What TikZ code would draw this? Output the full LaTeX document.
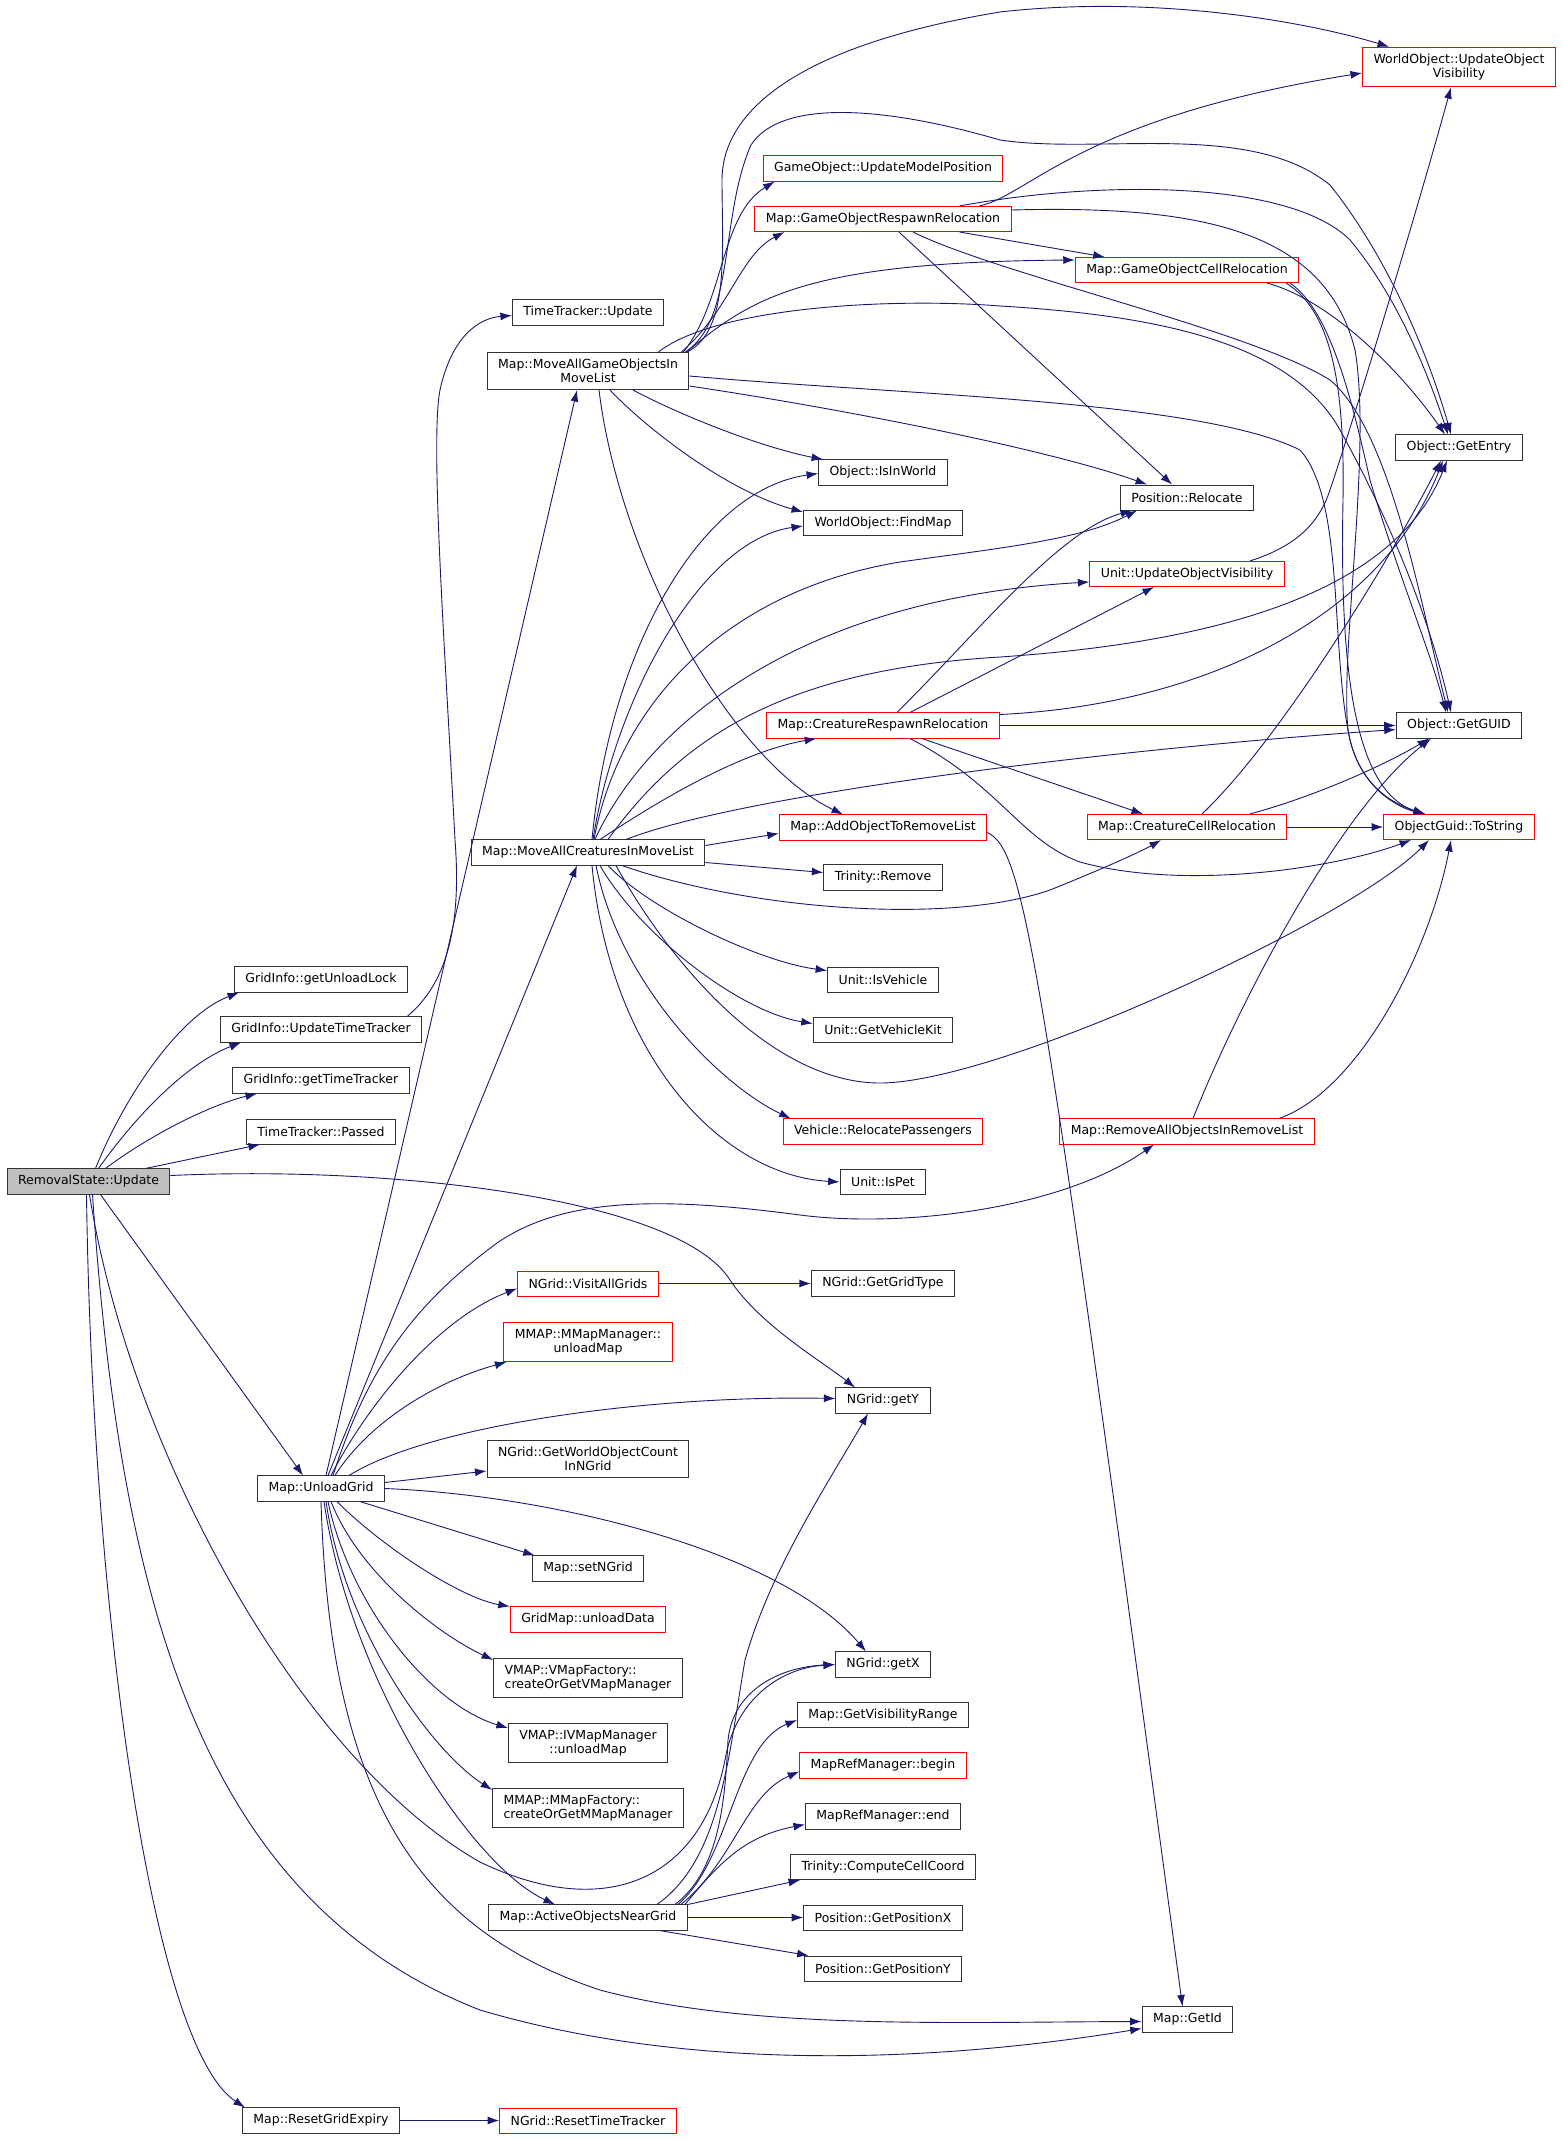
\documentclass[tikz,border=0pt]{standalone}
\usepackage{fontspec}
\setmainfont{DejaVu Sans}
\usepackage{tikz}
\usetikzlibrary{arrows.meta}
\definecolor{callblue}{RGB}{25,25,112}
\tikzset{>={Latex[length=11.5pt,width=8pt]}}
\tikzset{
    fn/.style={draw=black!80, line width=1pt, fill=white, rectangle,
        inner xsep=11pt, inner ysep=6.5pt, minimum height=25pt, align=center,
        font=\fontsize{12.5pt}{14.5pt}\selectfont},
    fnred/.style={fn, draw=red},
    fnroot/.style={fn, fill=black!25},
    callarrow/.style={->, draw=callblue, line width=0.9pt},
}

\begin{document}
\begin{tikzpicture}[x=1pt,y=-1pt]
    \useasboundingbox (0,0) rectangle (1561,2139);
    % functions
    \node[fnroot] (root)  at (88.5,1181.5) {RemovalState::Update};
    \node[fn]     (gul)   at (321,979.5)   {GridInfo::getUnloadLock};
    \node[fn]     (gutt)  at (321,1029.5)  {GridInfo::UpdateTimeTracker};
    \node[fn]     (ggtt)  at (321,1080.5)  {GridInfo::getTimeTracker};
    \node[fn]     (ttp)   at (321,1131.5)  {TimeTracker::Passed};
    \node[fn]     (ug)    at (321,1488.5)  {Map::UnloadGrid};
    \node[fn]     (rge)   at (321,2120.5)  {Map::ResetGridExpiry};
    \node[fn]     (ttu)   at (588,312.5)   {TimeTracker::Update};
    \node[fn]     (mgo)   at (588,371)     {Map::MoveAllGameObjectsIn\\MoveList};
    \node[fn]     (mac)   at (588,852.5)   {Map::MoveAllCreaturesInMoveList};
    \node[fnred]  (vag)   at (588,1283.5)  {NGrid::VisitAllGrids};
    \node[fnred]  (mmum)  at (588,1342)    {MMAP::MMapManager::\\unloadMap};
    \node[fn]     (gwoc)  at (588,1459)    {NGrid::GetWorldObjectCount\\InNGrid};
    \node[fn]     (setng) at (588,1568.5)  {Map::setNGrid};
    \node[fnred]  (gmud)  at (588,1619.5)  {GridMap::unloadData};
    \node[fn,align=left] (vmf) at (588,1678) {VMAP::VMapFactory::\\createOrGetVMapManager};
    \node[fn]     (ivm)   at (588,1743)    {VMAP::IVMapManager\\::unloadMap};
    \node[fn,align=left] (mmf) at (588,1808) {MMAP::MMapFactory::\\createOrGetMMapManager};
    \node[fn]     (aong)  at (588,1917.5)  {Map::ActiveObjectsNearGrid};
    \node[fnred]  (nrtt)  at (588,2120.5)  {NGrid::ResetTimeTracker};
    \node[fnred]  (goump) at (883,168.5)   {GameObject::UpdateModelPosition};
    \node[fnred]  (gorr)  at (883,219)     {Map::GameObjectRespawnRelocation};
    \node[fn]     (iiw)   at (883,472.5)   {Object::IsInWorld};
    \node[fn]     (fm)    at (883,523)     {WorldObject::FindMap};
    \node[fnred]  (crr)   at (883,725.5)   {Map::CreatureRespawnRelocation};
    \node[fnred]  (aorl)  at (883,827.5)   {Map::AddObjectToRemoveList};
    \node[fn]     (tr)    at (883,877.5)   {Trinity::Remove};
    \node[fn]     (iv)    at (883,979.5)   {Unit::IsVehicle};
    \node[fn]     (gvk)   at (883,1029.5)  {Unit::GetVehicleKit};
    \node[fnred]  (rp)    at (883,1131.5)  {Vehicle::RelocatePassengers};
    \node[fn]     (ip)    at (883,1182)    {Unit::IsPet};
    \node[fn]     (ggt)   at (883,1283.5)  {NGrid::GetGridType};
    \node[fn]     (gety)  at (883,1400.5)  {NGrid::getY};
    \node[fn]     (gx)    at (883,1664.5)  {NGrid::getX};
    \node[fn]     (gvr)   at (883,1715)    {Map::GetVisibilityRange};
    \node[fnred]  (mrb)   at (883,1765.5)  {MapRefManager::begin};
    \node[fn]     (mre)   at (883,1816.5)  {MapRefManager::end};
    \node[fn]     (tccc)  at (883,1867)    {Trinity::ComputeCellCoord};
    \node[fn]     (gpx)   at (883,1917.5)  {Position::GetPositionX};
    \node[fn]     (gpy)   at (883,1968.5)  {Position::GetPositionY};
    \node[fnred]  (gocr)  at (1187,270)    {Map::GameObjectCellRelocation};
    \node[fn]     (pr)    at (1187,497.5)  {Position::Relocate};
    \node[fnred]  (uuov)  at (1187,574)    {Unit::UpdateObjectVisibility};
    \node[fnred]  (ccr)   at (1187,827)    {Map::CreatureCellRelocation};
    \node[fnred]  (raoirl) at (1187,1131.5) {Map::RemoveAllObjectsInRemoveList};
    \node[fn]     (gid)   at (1187.5,2019.5) {Map::GetId};
    \node[fnred]  (wov)   at (1459,67)     {WorldObject::UpdateObject\\Visibility};
    \node[fn]     (ge)    at (1459,447.5)  {Object::GetEntry};
    \node[fn]     (guid)  at (1459,725.5)  {Object::GetGUID};
    \node[fnred]  (ots)   at (1459,827)    {ObjectGuid::ToString};

    % calls of RemovalState::Update
    \draw[callarrow] ([xshift=7pt]root.north) .. controls (125,1095) and (180,1015) .. ([xshift=-82pt]gul.south);
    \draw[callarrow] ([xshift=10pt]root.north) .. controls (140,1110) and (190,1062) .. ([xshift=-80pt]gutt.south);
    \draw[callarrow] ([xshift=17pt]root.north) .. controls (150,1135) and (210,1105) .. ([xshift=-64pt]ggtt.south);
    \draw[callarrow] ([xshift=-25pt]root.north east) -- ([xshift=-61pt]ttp.south);
    \draw[callarrow] ([yshift=6pt]root.east) .. controls (400,1165) and (680,1200) .. (730,1280)
        .. controls (760,1325) and (820,1360) .. ([xshift=-28pt]gety.north);
    \draw[callarrow] ([xshift=12pt]root.south) -- ([xshift=-18pt]ug.north);
    \draw[callarrow] ([xshift=-2pt]root.south) .. controls (92,1600) and (150,2045) .. ([xshift=3pt]rge.north west);
    \draw[callarrow] ([xshift=4pt]root.south) .. controls (120,1600) and (200,1900) .. (480,2010)
        .. controls (700,2075) and (950,2060) .. ([yshift=-9pt]gid.west);
    \draw[callarrow] ([xshift=1pt]root.south) .. controls (130,1450) and (300,1760) .. (480,1862)
        .. controls (600,1920) and (700,1885) .. (725,1760)
        .. controls (735,1700) and (780,1668) .. (gx.west);
    \draw[callarrow] ([xshift=-15pt]gutt.north east) .. controls (445,985) and (462,930) .. (455,840)
        .. controls (445,650) and (430,440) .. (440,390)
        .. controls (452,335) and (480,318) .. ([yshift=-3pt]ttu.west);

    % calls of Map::UnloadGrid
    \draw[callarrow] ([xshift=5pt]ug.north) -- ([xshift=-11pt]mgo.south);
    \draw[callarrow] ([xshift=7pt]ug.north) -- ([xshift=-11pt]mac.south);
    \draw[callarrow] ([xshift=10pt]ug.north) .. controls (370,1400) and (440,1318) .. ([yshift=-5pt]vag.west);
    \draw[callarrow] ([xshift=14pt]ug.north) .. controls (370,1420) and (440,1380) .. ([xshift=3pt]mmum.south west);
    \draw[callarrow] ([xshift=28pt]ug.north) .. controls (430,1425) and (650,1395) .. ([yshift=2pt]gety.west);
    \draw[callarrow] ([yshift=6pt]ug.east) -- ([yshift=-12pt]gwoc.west);
    \draw[callarrow] ([xshift=12pt]ug.north) .. controls (370,1360) and (420,1300) .. (497,1243)
        .. controls (560,1200) and (650,1195) .. (800,1215)
        .. controls (900,1228) and (1060,1210) .. ([xshift=-33pt]raoirl.south);
    \draw[callarrow] (ug.east) .. controls (550,1495) and (780,1550) .. ([xshift=-17pt]gx.north);
    \draw[callarrow] ([xshift=39pt]ug.south) -- ([xshift=3pt]setng.north west);
    \draw[callarrow] ([xshift=16pt]ug.south) .. controls (380,1545) and (460,1598) .. (gmud.north west);
    \draw[callarrow] ([xshift=10pt]ug.south) .. controls (360,1575) and (440,1635) .. ([yshift=-2pt]vmf.north west);
    \draw[callarrow] ([xshift=7pt]ug.south) .. controls (350,1605) and (430,1705) .. ([yshift=-5pt]ivm.north west);
    \draw[callarrow] ([xshift=5pt]ug.south) .. controls (345,1630) and (430,1750) .. ([yshift=-2pt]mmf.north west);
    \draw[callarrow] ([xshift=3pt]ug.south) .. controls (350,1680) and (470,1865) .. ([xshift=-33pt]aong.north);
    \draw[callarrow] (ug.south) .. controls (330,1800) and (420,1930) .. (600,1990)
        .. controls (750,2030) and (950,2022) .. ([yshift=-2pt]gid.west);

    % calls of Map::MoveAllGameObjectsInMoveList
    \draw[callarrow] ([xshift=-2pt]mgo.north east) .. controls (730,330) and (722,250) .. (722,180)
        .. controls (722,110) and (800,45) .. (1000,12)
        .. controls (1150,-5) and (1300,20) .. ([xshift=-70pt]wov.north);
    \draw[callarrow] ([xshift=-4pt]mgo.north east) .. controls (735,320) and (720,215) .. (751,145)
        .. controls (780,100) and (880,105) .. (1000,140)
        .. controls (1100,155) and (1250,120) .. (1330,185)
        .. controls (1390,260) and (1430,360) .. ([xshift=-8pt]ge.north);
    \draw[callarrow] ([xshift=-6pt]mgo.north east) .. controls (725,300) and (720,215) .. ([xshift=12pt]goump.south west);
    \draw[callarrow] ([xshift=-8pt]mgo.north east) .. controls (730,310) and (740,255) .. ([xshift=30pt]gorr.south west);
    \draw[callarrow] ([xshift=-3pt]mgo.north east) .. controls (750,300) and (800,262) .. ([yshift=10pt]gocr.west);
    \draw[callarrow] ([xshift=-31pt]mgo.north east) .. controls (720,305) and (900,298) .. (1000,306)
        .. controls (1150,315) and (1290,340) .. (1340,430)
        .. controls (1390,520) and (1430,620) .. ([xshift=-8pt]guid.north);
    \draw[callarrow] ([yshift=-5pt]mgo.east) .. controls (900,395) and (1200,400) .. (1300,450)
        .. controls (1345,500) and (1330,650) .. (1350,740)
        .. controls (1362,790) and (1400,808) .. ([xshift=-34pt]ots.north);
    \draw[callarrow] ([yshift=-15pt]mgo.east) .. controls (850,410) and (1050,450) .. ([xshift=-40pt]pr.north);
    \draw[callarrow] ([xshift=45pt]mgo.south) .. controls (680,415) and (760,447) .. ([xshift=5pt]iiw.north west);
    \draw[callarrow] ([xshift=22pt]mgo.south) .. controls (650,432) and (730,492) .. ([yshift=11pt]fm.west);
    \draw[callarrow] ([xshift=11pt]mgo.south) .. controls (620,560) and (730,760) .. ([xshift=-40pt]aorl.north);

    % calls of Map::GameObjectRespawnRelocation
    \draw[callarrow] ([xshift=-32pt]gorr.north east) .. controls (1030,195) and (1080,118) .. ([yshift=-6pt]wov.west);
    \draw[callarrow] ([xshift=-52pt]gorr.north east) .. controls (1100,180) and (1290,180) .. (1350,240)
        .. controls (1400,300) and (1430,380) .. ([xshift=-11pt]ge.north);
    \draw[callarrow] ([yshift=9pt]gorr.east) .. controls (1200,205) and (1325,230) .. (1355,350)
        .. controls (1372,450) and (1340,650) .. (1348,730)
        .. controls (1358,790) and (1400,806) .. ([xshift=-34pt]ots.north);
    \draw[callarrow] ([xshift=-52pt]gorr.south east) -- ([xshift=30pt]gocr.north west);
    \draw[callarrow] ([xshift=30pt]gorr.south) .. controls (1000,275) and (1250,330) .. (1330,380)
        .. controls (1390,430) and (1420,600) .. ([xshift=-11pt]guid.north);
    \draw[callarrow] ([xshift=16pt]gorr.south) -- ([xshift=-15pt]pr.north);

    % calls of Map::GameObjectCellRelocation
    \draw[callarrow] ([xshift=80pt]gocr.south) .. controls (1330,300) and (1400,370) .. ([xshift=-14pt]ge.north);
    \draw[callarrow] ([xshift=99pt]gocr.south) .. controls (1330,310) and (1345,380) .. (1343,500)
        .. controls (1340,650) and (1350,790) .. ([xshift=-34pt]ots.north);
    \draw[callarrow] ([xshift=103pt]gocr.south) .. controls (1330,310) and (1352,400) .. (1370,480)
        .. controls (1400,580) and (1430,650) .. ([xshift=-13pt]guid.north);
    \draw[callarrow] ([xshift=63pt]uuov.north) .. controls (1300,545) and (1320,520) .. (1330,490)
        .. controls (1360,400) and (1420,200) .. ([xshift=-8pt]wov.south);

    % calls of Map::MoveAllCreaturesInMoveList
    \draw[callarrow] ([xshift=4pt]mac.north) .. controls (610,650) and (700,490) .. ([yshift=-1pt]iiw.west);
    \draw[callarrow] ([xshift=5pt]mac.north) .. controls (615,700) and (700,540) .. ([yshift=-3pt]fm.west);
    \draw[callarrow] ([xshift=6pt]mac.north) .. controls (620,700) and (730,590) .. (900,562)
        .. controls (1000,548) and (1080,540) .. ([xshift=-50pt]pr.south);
    \draw[callarrow] ([xshift=7pt]mac.north) .. controls (640,740) and (780,600) .. ([yshift=-8pt]uuov.west);
    \draw[callarrow] ([xshift=20pt]mac.north) .. controls (680,740) and (780,670) .. (1000,657)
        .. controls (1250,640) and (1400,580) .. ([xshift=-12pt]ge.south);
    \draw[callarrow] ([xshift=12pt]mac.north) .. controls (660,800) and (740,752) .. ([xshift=50pt]crr.south west);
    \draw[callarrow] ([xshift=38pt]mac.north) .. controls (740,795) and (1100,750) .. ([yshift=-4pt]guid.west);
    \draw[callarrow] ([yshift=7pt]mac.east) -- ([yshift=-6pt]aorl.west);
    \draw[callarrow] ([yshift=-10pt]mac.east) -- ([yshift=5pt]tr.west);
    \draw[callarrow] ([xshift=34pt]mac.south) .. controls (750,910) and (950,925) .. (1050,890)
        .. controls (1100,870) and (1140,852) .. ([xshift=-26pt]ccr.south);
    \draw[callarrow] ([xshift=28pt]mac.south) .. controls (680,980) and (780,1083) .. (880,1083)
        .. controls (1000,1083) and (1350,920) .. ([xshift=-30pt]ots.south);
    \draw[callarrow] ([xshift=20pt]mac.south) .. controls (650,910) and (760,962) .. ([yshift=9pt]iv.west);
    \draw[callarrow] ([xshift=12pt]mac.south) .. controls (640,935) and (740,1012) .. ([yshift=6pt]gvk.west);
    \draw[callarrow] ([xshift=8pt]mac.south) .. controls (620,985) and (720,1085) .. ([xshift=8pt]rp.north west);
    \draw[callarrow] ([xshift=4pt]mac.south) .. controls (610,1055) and (720,1175) .. (ip.west);

    % calls of Map::CreatureRespawnRelocation and Map::CreatureCellRelocation
    \draw[callarrow] ([xshift=14pt]crr.north) .. controls (980,630) and (1060,530) .. ([xshift=-55pt]pr.south);
    \draw[callarrow] ([xshift=27pt]crr.north) -- ([xshift=-33pt]uuov.south);
    \draw[callarrow] ([yshift=11pt]crr.east) .. controls (1200,705) and (1380,620) .. ([xshift=-16pt]ge.south);
    \draw[callarrow] (crr.east) -- (guid.west);
    \draw[callarrow] ([xshift=39pt]crr.south) -- ([xshift=-44pt]ccr.north);
    \draw[callarrow] ([xshift=27pt]crr.south) .. controls (1000,785) and (1020,840) .. (1080,862)
        .. controls (1180,890) and (1330,870) .. ([xshift=-48pt]ots.south);
    \draw[callarrow] (ccr.east) -- (ots.west);
    \draw[callarrow] ([xshift=63pt]ccr.north) .. controls (1320,795) and (1390,762) .. ([xshift=-30pt]guid.south);
    \draw[callarrow] ([xshift=15pt]ccr.north) .. controls (1280,740) and (1390,560) .. ([xshift=-18pt]ge.south);

    % remaining calls
    \draw[callarrow] ([xshift=6pt]raoirl.north) .. controls (1240,1000) and (1340,810) .. ([xshift=-28pt]guid.south);
    \draw[callarrow] ([xshift=92pt]raoirl.north) .. controls (1360,1090) and (1430,950) .. ([xshift=-8pt]ots.south);
    \draw[callarrow] ([yshift=-5pt]aorl.east) .. controls (1025,850) and (1040,950) .. ([xshift=-5pt]gid.north);
    \draw[callarrow] (vag) -- (ggt);
    \draw[callarrow] (rge) -- (nrtt);

    % calls of Map::ActiveObjectsNearGrid
    \draw[callarrow] ([xshift=87pt]aong.north) .. controls (720,1870) and (725,1800) .. (728,1740)
        .. controls (733,1690) and (780,1667) .. (gx.west);
    \draw[callarrow] ([xshift=69pt]aong.north) .. controls (720,1860) and (728,1760) .. (745,1660)
        .. controls (770,1570) and (830,1480) .. ([xshift=-15pt]gety.south);
    \draw[callarrow] ([xshift=90pt]aong.north) .. controls (730,1860) and (735,1745) .. ([yshift=-5pt]gvr.west);
    \draw[callarrow] ([xshift=93pt]aong.north) .. controls (735,1860) and (745,1795) .. ([yshift=-6pt]mrb.west);
    \draw[callarrow] ([xshift=97pt]aong.north) .. controls (720,1862) and (745,1836) .. ([yshift=-8pt]mre.west);
    \draw[callarrow] (aong.north east) -- ([xshift=10pt]tccc.south west);
    \draw[callarrow] (aong.east) -- (gpx.west);
    \draw[callarrow] ([xshift=-28pt]aong.south east) -- ([xshift=5pt]gpy.north west);
\end{tikzpicture}
\end{document}
